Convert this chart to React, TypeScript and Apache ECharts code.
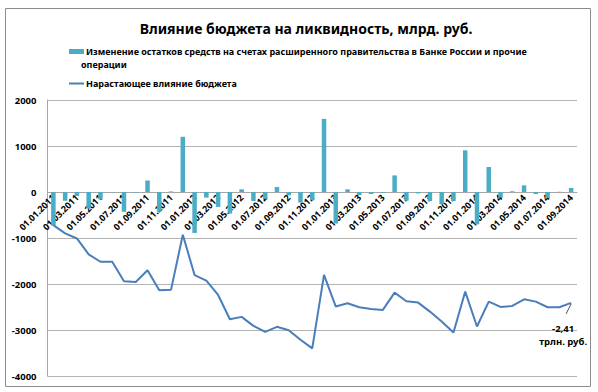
import React, { useEffect, useRef } from "react";
import * as echarts from "echarts";

const dates = [
  "01.01.2011","01.02.2011","01.03.2011","01.04.2011","01.05.2011","01.06.2011","01.07.2011","01.08.2011","01.09.2011","01.10.2011","01.11.2011","01.12.2011",
  "01.01.2012","01.02.2012","01.03.2012","01.04.2012","01.05.2012","01.06.2012","01.07.2012","01.08.2012","01.09.2012","01.10.2012","01.11.2012","01.12.2012",
  "01.01.2013","01.02.2013","01.03.2013","01.04.2013","01.05.2013","01.06.2013","01.07.2013","01.08.2013","01.09.2013","01.10.2013","01.11.2013","01.12.2013",
  "01.01.2014","01.02.2014","01.03.2014","01.04.2014","01.05.2014","01.06.2014","01.07.2014","01.08.2014","01.09.2014",
];

const changeValues = [
  -720, -190, -86, -360, -160, -5, -430, -12, 250, -430, 12, 1200,
  -890, -122, -324, -468, 58, -195, -144, 108, -72, -230, -180, 1590,
  -684, 58, -65, -43, -15, 360, -187, -30, -196, -268, -196, 906,
  -703, 543, -123, 14, 145, -43, -130, 5, 87,
];

const cumulativeValues = [
  -720, -900, -1010, -1357, -1516, -1516, -1942, -1957, -1700, -2137, -2123, -930,
  -1805, -1928, -2238, -2765, -2715, -2910, -3040, -2931, -3004, -3213, -3400, -1800,
  -2491, -2419, -2505, -2541, -2563, -2188, -2375, -2404, -2600, -2816, -3054, -2166,
  -2924, -2383, -2498, -2477, -2332, -2383, -2505, -2505, -2410,
];

const yMin = -4000;
const yMax = 2000;
const yStep = 1000;

const barName = "Изменение остатков средств на счетах расширенного правительства в Банке России и прочие";
const barName2 = "операции";
const lineName = "Нарастающее влияние бюджета";
const titleText = "Влияние бюджета на ликвидность, млрд. руб.";
const lastLabel = "-2,41\nтрлн. руб.";

const FONT = "'Noto Sans', 'DejaVu Sans', sans-serif";

const GRID_TOP = 100;
const GRID_BOTTOM = 16;
const CHART_H = 392;

export default function App() {
  const ref = useRef<HTMLDivElement>(null);
  useEffect(() => {
    if (!ref.current) return;
    const chart = echarts.init(ref.current, undefined, { renderer: "svg" });
    const lastIdx = cumulativeValues.length - 1;
    const gridH = CHART_H - GRID_TOP - GRID_BOTTOM;
    const zeroOffset = -(gridH * (0 - yMin)) / (yMax - yMin);
    const baseGraphics: any[] = [
      {
        id: "border",
        type: "rect",
        shape: { x: 5.5, y: 8.5, width: 585, height: 378 },
        style: { fill: "none", stroke: "#8c8c8c", lineWidth: 1 },
        silent: true,
      },
      {
        id: "legend2",
        type: "text",
        left: 81,
        top: 60,
        style: { text: barName2, fontSize: 9, fontWeight: "bold", fill: "#000", fontFamily: FONT },
      },
    ];
    chart.setOption({
      animation: false,
      backgroundColor: "#ffffff",
      textStyle: { fontFamily: FONT },
      title: {
        text: titleText,
        left: 301,
        textAlign: "center",
        top: 16,
        textStyle: { fontSize: 14, fontWeight: "bold", color: "#000", fontFamily: FONT },
      },
      legend: {
        orient: "vertical",
        left: 63,
        top: 42,
        itemWidth: 15,
        itemHeight: 5,
        itemGap: 23,
        textStyle: { fontSize: 9, fontWeight: "bold", color: "#000", fontFamily: FONT, padding: [0, 0, 0, -3] },
        data: [
          { name: barName, icon: "rect" },
          { name: lineName, itemStyle: { color: "rgba(0,0,0,0)", borderWidth: 0, opacity: 0 } },
        ],
      },
      graphic: baseGraphics,
      grid: { left: 47.5, right: 21, top: GRID_TOP, bottom: GRID_BOTTOM, containLabel: false },
      xAxis: {
        type: "category",
        data: dates,
        boundaryGap: true,
        position: "bottom",
        offset: zeroOffset,
        axisLine: { onZero: false, lineStyle: { color: "#a6a6a6", width: 1 } },
        axisTick: { show: false },
        axisLabel: {
          interval: 1,
          rotate: 45,
          fontSize: 9,
          fontWeight: "bold",
          color: "#000",
          margin: 4,
          fontFamily: FONT,
        },
        splitLine: { show: false },
      },
      yAxis: {
        type: "value",
        min: yMin,
        max: yMax,
        interval: yStep,
        axisLine: { show: true, lineStyle: { color: "#a6a6a6" } },
        axisTick: { show: false },
        axisLabel: {
          fontSize: 9.5,
          fontWeight: "bold",
          color: "#000",
          margin: 11,
          fontFamily: FONT,
          formatter: (v: number) => String(v),
        },
        splitLine: { show: true, lineStyle: { color: "#b3b3b3", width: 1 } },
      },
      series: [
        {
          name: barName,
          type: "bar",
          data: changeValues,
          barWidth: 4.5,
          itemStyle: { color: "#4bacc6" },
          z: 2,
        },
        {
          name: lineName,
          type: "line",
          data: cumulativeValues.map((v, i) =>
            i === lastIdx
              ? {
                  value: v,
                  label: {
                    show: true,
                    position: "inside",
                    formatter: lastLabel,
                    fontSize: 9.5,
                    fontWeight: "bold",
                    color: "#000",
                    align: "center",
                    lineHeight: 13,
                    fontFamily: FONT,
                  },
                }
              : v
          ),
          labelLayout: (params: any) =>
            params.dataIndex === lastIdx ? { dx: -8, dy: 32 } : {},
          symbol: "circle",
          symbolSize: 0.01,
          showSymbol: true,
          lineStyle: { color: "#4a7ebb", width: 2 },
          itemStyle: { color: "#4a7ebb", borderWidth: 0 },
          z: 3,
        },
      ],
    });
    const p = chart.convertToPixel({ seriesIndex: 1 }, [lastIdx, cumulativeValues[lastIdx]]) as number[];
    if (p && isFinite(p[0]) && isFinite(p[1])) {
      chart.setOption({
        graphic: [
          ...baseGraphics,
          {
            id: "leader",
            type: "line",
            shape: { x1: p[0], y1: p[1] + 1, x2: p[0] - 5, y2: p[1] + 11 },
            style: { stroke: "#222", lineWidth: 0.8 },
            silent: true,
            z: 10,
          },
        ],
      });
    }
    return () => chart.dispose();
  }, []);
  return (
    <div
      ref={ref}
      style={{ position: "fixed", left: 0, top: 0, width: 598, height: 392 }}
    />
  );
}
